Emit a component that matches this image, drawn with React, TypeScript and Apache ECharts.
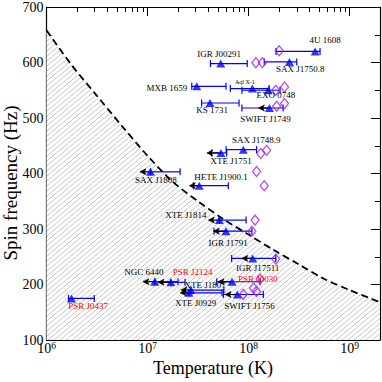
import React, { useEffect, useRef } from "react";
import * as echarts from "echarts";

// ---- sources (blue triangles, error bars, upper-limit arrows) ----
const names = ["4U 1608", "IGR J00291", "SAX J1750.8", "MXB 1659", "Aql X-1", "EXO 0748", "KS 1731", "SWIFT J1749", "SAX J1748.9", "XTE J1751", "SAX J1808", "HETE J1900.1", "XTE J1814", "IGR J17191", "IGR J17511", "NGC 6440", "PSR J2124", "PSR J0030", "XTE J1807", "XTE J0929", "SWIFT J1756", "PSR J0437"];
const spinHz = [620, 598, 601, 557, 553, 550, 527, 518, 443, 437, 403, 378, 316, 296, 247, 205, 204, 205, 190, 185, 182, 175];
const tempK = [4.56e8, 5.3e7, 2.54e8, 3.07e7, 1.09e8, 1.57e8, 4.15e7, 1.61e8, 8.87e7, 5.33e7, 1.07e7, 3.25e7, 5.14e7, 5.98e7, 1.1e8, 1.18e7, 1.7e7, 6.86e7, 2.69e7, 2.57e7, 7.74e7, 1.77e6];
const tempLowK = [1.87e8, 4.2e7, 1.43e8, 2.74e7, 6.6e7, 8.6e7, 3.43e7, 8.6e7, 6.0e7, 4.3e7, 1.07e7, 2.84e7, 5.14e7, 4.55e7, 6.8e7, 1.18e7, 1.7e7, 4.84e7, 2.69e7, 2.57e7, 5.63e7, 1.65e6];
const tempHighK = [5.1e8, 9.7e7, 3.0e8, 5.98e7, 1.6e8, 2.05e8, 8.05e7, 2.2e8, 1.2e8, 6.08e7, 2.1e7, 6.3e7, 9.45e7, 1.08e8, 1.86e8, 2.0e7, 2.35e7, 1.3e8, 5.7e7, 5.46e7, 1.4e8, 2.97e6];
const limitToK: (number | null)[] = [null, null, null, null, null, null, null, 1.25e8, null, 3.86e7, 8.4e6, 2.59e7, 4.0e7, 4.48e7, 8.57e7, 9.0e6, 1.27e7, 4.99e7, 2.14e7, 2.1e7, 5.85e7, null];

// ---- magenta diamonds ----
const diamondT = [2.01e8, 1.18e8, 1.37e8, 1.86e8, 2.27e8, 1.9e8, 2.27e8, 1.51e8, 1.32e8, 1.2e8, 1.43e8, 1.16e8, 1.08e8, 1.86e8, 1.3e8, 1.12e8, 1.2e8, 8.87e7];
const diamondHz = [621, 599.6, 599.6, 550, 556, 521, 526, 442, 436, 403.5, 378, 316, 296, 246, 210, 193.5, 187.6, 182.2];

// ---- source labels ----
const labelText = ["4U 1608", "IGR J00291", "SAX J1750.8", "MXB 1659", "Aql X-1", "EXO 0748", "KS 1731", "SWIFT J1749", "SAX J1748.9", "XTE J1751", "SAX J1808", "HETE J1900.1", "XTE J1814", "IGR J1791", "IGR J17511", "NGC 6440", "PSR J2124", "PSR J0030", "XTE J1807", "XTE J0929", "SWIFT J1756", "PSR J0437"];
const labelT = [5.73e8, 5.1e7, 3.24e8, 1.55e7, 9.2e7, 1.86e8, 4.35e7, 1.47e8, 1.19e8, 6.72e7, 1.21e7, 5.33e7, 2.4e7, 6.27e7, 1.23e8, 9.2e6, 2.79e7, 1.24e8, 3.71e7, 2.99e7, 1.02e8, 2.58e6];
const labelHz = [640, 614.5, 589, 554, 565, 541, 514, 499, 460, 422, 388, 393, 325, 274.5, 229.5, 222, 222, 210, 199, 166.5, 161, 161];
const labelColor = ["#000", "#000", "#000", "#000", "#000", "#000", "#000", "#000", "#000", "#000", "#000", "#000", "#000", "#000", "#000", "#000", "#ff0000", "#ff0000", "#000", "#000", "#000", "#ff0000"];
const labelSize = [9, 9, 9, 9, 6, 9, 9, 9, 9, 9, 9, 9, 9, 9, 9, 9, 9, 9, 9, 9, 9, 9];

// ---- instability curve ----
const curveT = [1e6, 1.78e6, 3.16e6, 5.62e6, 1e7, 1.78e7, 3.16e7, 5.62e7, 1e8, 1.78e8, 3.16e8, 5.62e8, 1e9, 2e9];
const curveHz = [658, 595, 540, 485, 432, 385, 350, 318, 290, 262, 236, 210, 190, 168];

// ---- axis ticks ----
const majorT = [1e6, 1e7, 1e8, 1e9];
const minorT = [2e6, 3e6, 4e6, 5e6, 6e6, 7e6, 8e6, 9e6, 2e7, 3e7, 4e7, 5e7, 6e7, 7e7, 8e7, 9e7, 2e8, 3e8, 4e8, 5e8, 6e8, 7e8, 8e8, 9e8];
const yTicks = [100, 200, 300, 400, 500, 600, 700];

const FONT = '"Liberation Serif", "Times New Roman", serif';
const BLUE = "#0000ff";
const VIOLET = "#a020f0";

function makeHatch(): HTMLCanvasElement {
  const w = 6, h = 5;
  const c = document.createElement("canvas");
  c.width = w;
  c.height = h;
  const ctx = c.getContext("2d")!;
  ctx.fillStyle = "#ffffff";
  ctx.fillRect(0, 0, w, h);
  ctx.strokeStyle = "#b8b8b8";
  ctx.lineWidth = 0.8;
  for (const dx of [-w, 0, w]) {
    ctx.beginPath();
    ctx.moveTo(dx - w, 2 * h);
    ctx.lineTo(dx + 2 * w, -h);
    ctx.stroke();
  }
  return c;
}

export default function App() {
  const ref = useRef<HTMLDivElement>(null);
  useEffect(() => {
    const chart = echarts.init(ref.current!, null, { renderer: "svg" });
    const axisLine = { show: true, onZero: false, lineStyle: { color: "#000", width: 1.2 } };
    const tickStyle = { color: "#000", width: 1 };
    const xBase: any = { type: "log", logBase: 10, min: 1e6, max: 2e9, gridIndex: 0, splitLine: { show: false }, minorSplitLine: { show: false } };

    const bars = names.map((_, i) => [tempLowK[i], tempHighK[i], spinHz[i]]);
    const arrows = names
      .map((_, i) => (limitToK[i] == null ? null : [tempK[i], limitToK[i] as number, spinHz[i]]))
      .filter((d) => d != null) as number[][];
    const tris = names.map((_, i) => [tempK[i], spinHz[i]]);
    const dias = diamondT.map((t, i) => [t, diamondHz[i]]);
    const labels = labelText.map((t, i) => [labelT[i], labelHz[i], i]);

    const option: any = {
      animation: false,
      backgroundColor: "#ffffff",
      grid: { left: 46.5, right: 2, top: 6.5, bottom: 42 },
      xAxis: [
        {
          ...xBase,
          position: "bottom",
          axisLine,
          axisTick: { show: true, inside: true, length: 9, customValues: majorT, lineStyle: tickStyle },
          axisLabel: {
            show: true,
            margin: 1,
            customValues: majorT,
            formatter: (v: number) => `{b|10}{s|${Math.round(Math.log10(v))}}`,
            rich: {
              b: { fontFamily: FONT, fontSize: 14, color: "#000", lineHeight: 14, verticalAlign: "bottom" },
              s: { fontFamily: FONT, fontSize: 9.5, color: "#000", lineHeight: 14, verticalAlign: "top" },
            },
          },
        },
        {
          ...xBase,
          position: "top",
          axisLine,
          axisTick: { show: true, inside: true, length: 9, customValues: majorT, lineStyle: tickStyle },
          axisLabel: { show: false },
        },
        {
          ...xBase,
          position: "bottom",
          axisLine: { show: false, onZero: false },
          axisTick: { show: true, inside: true, length: 5, customValues: minorT, lineStyle: tickStyle },
          axisLabel: { show: false },
        },
        {
          ...xBase,
          position: "top",
          axisLine: { show: false, onZero: false },
          axisTick: { show: true, inside: true, length: 5, customValues: minorT, lineStyle: tickStyle },
          axisLabel: { show: false },
        },
      ],
      yAxis: [
        {
          type: "value",
          min: yTicks[0],
          max: yTicks[yTicks.length - 1],
          interval: 100,
          position: "left",
          axisLine,
          axisTick: { show: true, inside: true, length: 9, lineStyle: tickStyle },
          minorTick: { show: true, splitNumber: 2, length: 5, lineStyle: tickStyle },
          axisLabel: { fontFamily: FONT, fontSize: 14, color: "#000", margin: 3 },
          splitLine: { show: false },
          minorSplitLine: { show: false },
        },
        {
          type: "value",
          min: yTicks[0],
          max: yTicks[yTicks.length - 1],
          interval: 100,
          position: "right",
          axisLine,
          axisTick: { show: true, inside: true, length: 9, lineStyle: tickStyle },
          minorTick: { show: true, splitNumber: 2, length: 5, lineStyle: tickStyle },
          axisLabel: { show: false },
          splitLine: { show: false },
          minorSplitLine: { show: false },
        },
      ],
      graphic: [
        {
          type: "text",
          x: 213,
          y: 368,
          style: { text: "Temperature (K)", font: `18px ${FONT}`, fill: "#000", textAlign: "center", textVerticalAlign: "middle", align: "center", verticalAlign: "middle" },
        },
        {
          type: "text",
          x: 10,
          y: 183,
          rotation: Math.PI / 2,
          style: { text: "Spin frequency (Hz)", font: `19px ${FONT}`, fill: "#000", textAlign: "center", textVerticalAlign: "middle", align: "center", verticalAlign: "middle" },
        },
      ],
      series: [
        {
          type: "line",
          xAxisIndex: 0,
          yAxisIndex: 0,
          data: curveT.map((t, i) => [t, curveHz[i]]),
          smooth: 0.3,
          showSymbol: false,
          symbol: "none",
          lineStyle: { color: "#000", width: 1.8, type: [7, 4] },
          areaStyle: { origin: "start", opacity: 1, color: { image: makeHatch(), repeat: "repeat" } },
          z: 1,
        },
        {
          type: "custom",
          xAxisIndex: 0,
          yAxisIndex: 0,
          data: bars,
          encode: { x: [0, 1], y: 2 },
          renderItem: (_p: any, api: any) => {
            const a = api.coord([api.value(0), api.value(2)]);
            const b = api.coord([api.value(1), api.value(2)]);
            const h = 3.5;
            const st = { stroke: BLUE, lineWidth: 1.2 };
            return {
              type: "group",
              children: [
                { type: "line", shape: { x1: a[0], y1: a[1], x2: b[0], y2: b[1] }, style: st },
                { type: "line", shape: { x1: a[0], y1: a[1] - h, x2: a[0], y2: a[1] + h }, style: st },
                { type: "line", shape: { x1: b[0], y1: b[1] - h, x2: b[0], y2: b[1] + h }, style: st },
              ],
            };
          },
          z: 3,
        },
        {
          type: "custom",
          xAxisIndex: 0,
          yAxisIndex: 0,
          data: arrows,
          encode: { x: [0, 1], y: 2 },
          renderItem: (_p: any, api: any) => {
            const a = api.coord([api.value(0), api.value(2)]);
            const b = api.coord([api.value(1), api.value(2)]);
            return {
              type: "group",
              children: [
                { type: "line", shape: { x1: a[0], y1: a[1], x2: b[0] + 3, y2: b[1] }, style: { stroke: "#000", lineWidth: 1.2 } },
                {
                  type: "polygon",
                  shape: { points: [[b[0], b[1]], [b[0] + 6, b[1] - 3], [b[0] + 4.5, b[1]], [b[0] + 6, b[1] + 3]] },
                  style: { fill: "#000", stroke: "#000", lineWidth: 0.6 },
                },
              ],
            };
          },
          z: 4,
        },
        {
          type: "scatter",
          xAxisIndex: 0,
          yAxisIndex: 0,
          data: dias,
          symbol: "diamond",
          symbolSize: [8, 10],
          itemStyle: { color: "rgba(255,255,255,0)", borderColor: VIOLET, borderWidth: 1.3 },
          z: 5,
        },
        {
          type: "scatter",
          xAxisIndex: 0,
          yAxisIndex: 0,
          data: tris,
          symbol: "triangle",
          symbolSize: [9, 8],
          itemStyle: { color: BLUE },
          z: 6,
        },
        {
          type: "custom",
          xAxisIndex: 0,
          yAxisIndex: 0,
          data: labels,
          renderItem: (_p: any, api: any) => {
            const i = api.value(2);
            const p = api.coord([api.value(0), api.value(1)]);
            return {
              type: "text",
              x: p[0],
              y: p[1],
              style: {
                text: labelText[i],
                font: `${labelSize[i]}px ${FONT}`,
                fill: labelColor[i],
                textAlign: "center",
                textVerticalAlign: "middle",
                align: "center",
                verticalAlign: "middle",
              },
            };
          },
          z: 7,
        },
      ],
    };
    chart.setOption(option);
    return () => chart.dispose();
  }, []);
  return <div ref={ref} style={{ position: "fixed", left: 0, top: 0, width: 382, height: 382 }} />;
}
